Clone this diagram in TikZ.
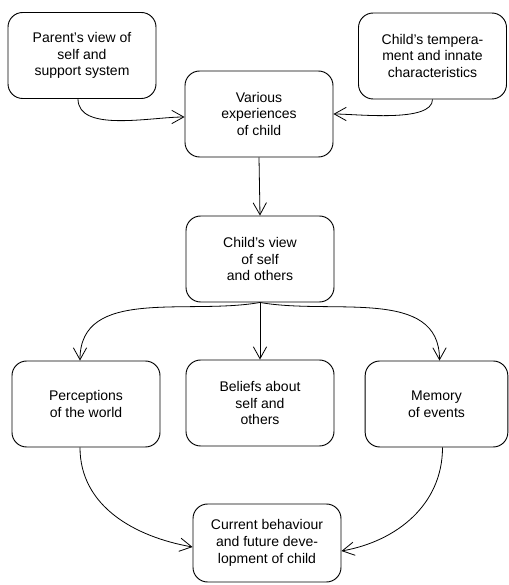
\documentclass[tikz,border=0pt]{standalone}
\usepackage{fontspec}
\setmainfont{Liberation Sans}
\usepackage{tikz}
\usetikzlibrary{calc}
\usetikzlibrary{arrows.meta}
\tikzset{
    box/.style={draw, rounded corners=11pt, line width=0.7pt,
        minimum width=111pt, minimum height=64.5pt, align=center,
        font=\fontsize{10.5}{12.5}\selectfont},
    link/.style={line width=0.6pt, -{Straight Barb[length=9pt, width=10pt, line width=0.6pt]}}
}

\begin{document}
\begin{tikzpicture}[x=0.75pt, y=0.75pt]
			\useasboundingbox (0,0) rectangle (509,585);

			\node[box] (view) at (260,326) {Child's view\\of self\\and others};

			\node[box] (var) at ($(view)+(-1,145)$) {Various\\experiences\\of child};
			\node[box] (par) at ($(view)+(-178,203.5)$) {Parent's view of\\self and\\support system};
			\node[box] (temp) at ($(view)+(172.5,203)$) {Child's tempera-\\ment and innate\\characteristics};

			\node[box] (perc) at ($(view)+(-174,-145)$) {Perceptions\\of the world};
			\node[box] (bel) at ($(view)+(0,-144)$) {Beliefs about\\self and\\others};
			\node[box, minimum width=107pt] (mem) at ($(view)+(176.5,-145)$) {Memory\\of events};

			\node[box, minimum height=58.5pt] (cur) at ($(view)+(7,-284)$) {Current behaviour\\and future deve-\\lopment of child};

			% inputs to the experiences
			\draw[link] ($(par.south)+(-4,0)$) to[out=-90, in=180, looseness=0.8] ($(var.west)+(0,-3)$);
			\draw[link] (temp.south) to[out=-90, in=0, looseness=0.6] (var.east);

			\draw[link] (var.south) -- (view.north);

			% three outcomes
			\draw[link] (view.south) to[out=190, in=90] ($(perc.north)+(-6,0)$);
			\draw[link] (view.south) -- (bel.north);
			\draw[link] (view.south) to[out=-10, in=90] ($(mem.north)+(3,0)$);

			\draw[link] ($(perc.south)+(-6,0)$) to[out=-90, in=170] ($(cur.west)+(0,-4)$);
			\draw[link] ($(mem.south)+(6,0)$) to[out=-90, in=10] ($(cur.east)+(0,-8)$);

		\end{tikzpicture}
\end{document}
